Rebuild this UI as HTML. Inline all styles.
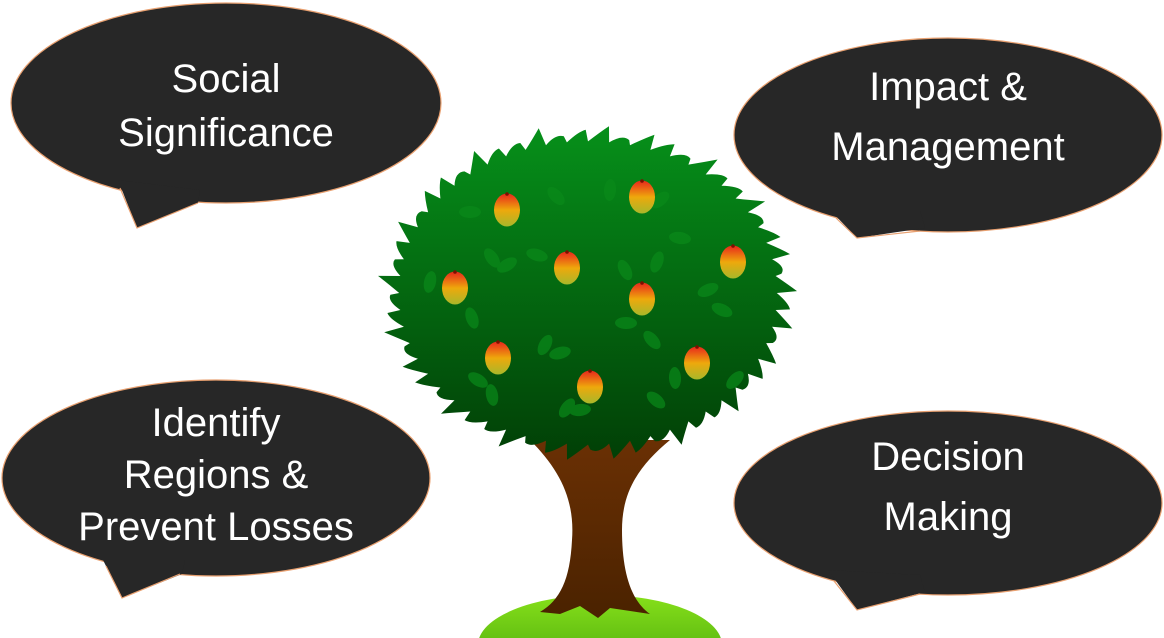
<!DOCTYPE html>
<html><head><meta charset="utf-8"><style>
html,body{margin:0;padding:0;background:#fff;width:1164px;height:638px;overflow:hidden}
svg{display:block;overflow:hidden}
text{font-family:"Liberation Sans",sans-serif;fill:#fff;font-size:40px;text-anchor:middle}
</style></head><body>
<svg width="1164" height="638" viewBox="0 0 1164 638">
<defs>
<linearGradient id="g" x1="0" y1="0" x2="0" y2="1"><stop offset="0" stop-color="#06901a"/><stop offset="1" stop-color="#013f06"/></linearGradient>
<linearGradient id="m" x1="0" y1="0" x2="0" y2="1"><stop offset="0" stop-color="#e8261c"/><stop offset="0.5" stop-color="#eea80c"/><stop offset="1" stop-color="#a8b82a"/></linearGradient>
<linearGradient id="t" x1="0" y1="0" x2="0" y2="1"><stop offset="0" stop-color="#6a3004"/><stop offset="1" stop-color="#4a2200"/></linearGradient>
<linearGradient id="gr" x1="0" y1="0" x2="0" y2="1"><stop offset="0" stop-color="#86e01a"/><stop offset="1" stop-color="#3c9a0a"/></linearGradient>
</defs>
<g fill="#272727" stroke="#e8a070" stroke-width="1.2">
<ellipse cx="226" cy="103" rx="215" ry="100"/>
<ellipse cx="948" cy="135" rx="214" ry="97"/>
<ellipse cx="216" cy="478" rx="214" ry="98"/>
<ellipse cx="948" cy="503" rx="214" ry="92"/>
</g>
<g fill="#272727">
<polygon points="118,180 137,228 198,203 200,190"/>
<polygon points="830,210 857,238 925,228 920,210"/>
<polygon points="103,560 122,598 182,574 185,560"/>
<polygon points="828,570 857,610 925,592 920,575"/>
</g>
<g stroke="#e8a070" stroke-width="1.2" fill="none">
<polyline points="120,188 137,228 198,203"/>
<polyline points="836,218 857,238 920,231"/>
<polyline points="834,581 857,610 920,594"/>
<polyline points="106,566 122,598 180,574"/>
</g>
<text x="226" y="92">Social</text><text x="226" y="146">Significance</text>
<text x="948" y="100">Impact &amp;</text><text x="948" y="160">Management</text>
<text x="216" y="436">Identify</text><text x="216" y="488">Regions &amp;</text><text x="216" y="540">Prevent Losses</text>
<text x="948" y="470">Decision</text><text x="948" y="530">Making</text>
<ellipse cx="600" cy="645" rx="122" ry="50" fill="url(#gr)"/>
<path d="M530,440 C560,470 575,500 572,540 C570,580 560,600 540,612 L560,614 L580,606 L598,618 L610,608 L650,614 C630,600 622,570 622,530 C622,490 640,465 670,440 Z" fill="url(#t)"/>
<path id="canopy" fill="url(#g)"/>
<g id="leaves" fill="#0a8a1a" opacity="0.7"></g>
<g id="mangos"></g>
</svg>
<script>
var cx=588,cy=293,rx=203,ry=163,n=56,d="";
for(var i=0;i<n;i++){
 var a=i/n*2*Math.PI, a2=(i+0.55)/n*2*Math.PI, a3=(i+0.9)/n*2*Math.PI;
 var r1=0.93,r2=1.0+0.04*Math.sin(i*2.3);
 var p1=[cx+rx*r1*Math.cos(a),cy+ry*r1*Math.sin(a)];
 var p2=[cx+rx*r2*Math.cos(a3),cy+ry*r2*Math.sin(a3)];
 d+=(i?"L":"M")+p1[0].toFixed(1)+","+p1[1].toFixed(1)+" Q"+(cx+rx*0.99*Math.cos(a2)).toFixed(1)+","+(cy+ry*0.99*Math.sin(a2)).toFixed(1)+" "+p2[0].toFixed(1)+","+p2[1].toFixed(1)+" ";
}
document.getElementById("canopy").setAttribute("d",d+"Z");
var L=[[470,212],[556,196],[610,190],[660,200],[680,238],[492,258],[430,282],[507,265],[537,255],[625,270],[657,262],[708,290],[722,310],[472,318],[545,345],[560,353],[478,380],[492,395],[567,408],[580,410],[656,400],[675,378],[735,380],[626,323],[652,340]];
var s="";L.forEach(function(p,i){s+='<ellipse cx="'+p[0]+'" cy="'+p[1]+'" rx="6" ry="11" transform="rotate('+(i*47%180-90)+' '+p[0]+' '+p[1]+')"/>';});
document.getElementById("leaves").innerHTML=s;
var M=[[507,210],[642,197],[733,262],[567,268],[455,288],[642,299],[498,358],[697,363],[590,387]];
s="";M.forEach(function(p){s+='<ellipse cx="'+p[0]+'" cy="'+p[1]+'" rx="13" ry="16.5" fill="url(#m)"/><circle cx="'+p[0]+'" cy="'+(p[1]-16)+'" r="1.8" fill="#7a1000"/>';});
document.getElementById("mangos").innerHTML=s;
</script>
</body></html>
